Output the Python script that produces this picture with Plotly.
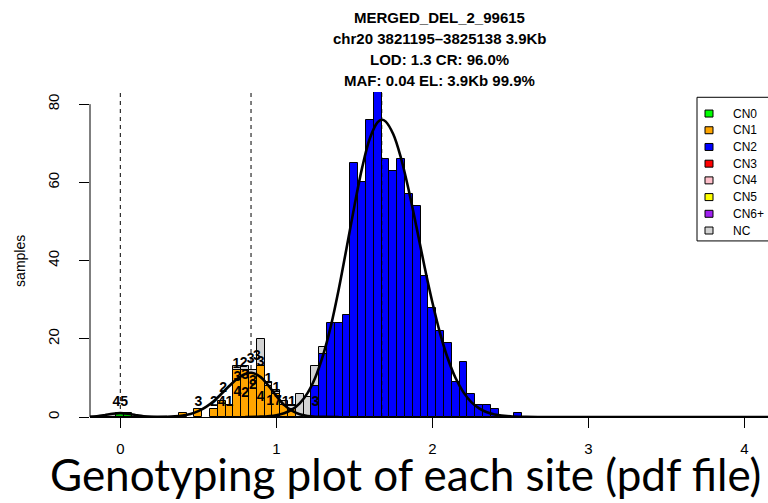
import plotly.graph_objects as go

# ---------------- data ----------------
title_lines = ["MERGED_DEL_2_99615", "chr20 3821195\u20133825138 3.9Kb",
               "LOD: 1.3 CR: 96.0%", "MAF: 0.04 EL: 3.9Kb 99.9%"]
caption = "Genotyping plot of each site (pdf file)"
y_label = "samples"

x_ticks = [0, 1, 2, 3, 4]
y_ticks = [0, 20, 40, 60, 80]

bin_width = 0.05

# all samples incl. no-calls (grey, drawn behind)
nc_x = [0.75, 0.80, 0.85, 0.90, 0.95, 1.00, 1.05, 1.10, 1.15, 1.20, 1.25, 1.30]
nc_y = [13, 13, 12, 20, 9, 7, 4, 3, 6, 5, 13, 18]

cn0_x = [0.00, 0.05]
cn0_y = [1, 1]

cn1_x = [0.40, 0.50, 0.60, 0.65, 0.70, 0.75, 0.80, 0.85, 0.90, 0.95, 1.00, 1.05, 1.10, 1.25]
cn1_y = [1, 2, 2, 4, 3, 12, 12, 11, 13, 8, 6, 3, 2, 1]

cn2_x = [1.25, 1.30, 1.35, 1.40, 1.45, 1.50, 1.55, 1.60, 1.65, 1.70, 1.75, 1.80, 1.85,
         1.90, 1.95, 2.00, 2.05, 2.10, 2.15, 2.20, 2.25, 2.30, 2.35, 2.40, 2.45, 2.50, 2.55]
cn2_y = [8, 16, 24, 24, 26, 65, 60, 76, 83, 66, 63, 66, 57,
         54, 36, 28, 22, 19, 9, 14, 6, 3, 3, 2, 0, 0, 1]

# fitted density curves
fit0_x = [-0.25, -0.20, -0.15, -0.10, -0.05, 0.00, 0.05, 0.10, 0.15, 0.20, 0.25, 0.30]
fit0_y = [0.01, 0.04, 0.17, 0.46, 0.82, 1.0, 0.82, 0.46, 0.17, 0.04, 0.01, 0.0]

fit1_x = [-0.25, 0.30, 0.35, 0.40, 0.45, 0.50, 0.55, 0.60, 0.65, 0.70, 0.75, 0.80, 0.842,
          0.90, 0.95, 1.00, 1.05, 1.10, 1.15, 1.20, 1.25, 1.30, 1.40]
fit1_y = [0.0, 0.07, 0.17, 0.38, 0.79, 1.5, 2.6, 4.1, 6.0, 8.0, 9.8, 11.0, 11.3,
          10.2, 8.0, 5.4, 3.1, 1.6, 0.68, 0.26, 0.08, 0.02, 0.0]

fit2_x = [0.80, 0.90, 1.00, 1.05, 1.10, 1.15, 1.20, 1.25, 1.30, 1.35, 1.40, 1.45, 1.50,
          1.55, 1.60, 1.65, 1.676, 1.70, 1.75, 1.80, 1.85, 1.90, 1.95, 2.00, 2.05, 2.10,
          2.15, 2.20, 2.25, 2.30, 2.35, 2.40, 2.50, 2.60, 2.70, 4.30]
fit2_y = [0.0, 0.09, 0.47, 0.97, 1.9, 3.5, 6.1, 10.1, 15.8, 23.3, 32.6, 43.1, 53.8,
          63.7, 71.3, 75.4, 76.0, 75.6, 72.3, 66.1, 57.8, 48.3, 38.5, 29.4, 21.4, 14.9,
          9.9, 6.3, 3.8, 2.2, 1.2, 0.66, 0.16, 0.03, 0.0, 0.0]

cn_centres = [0.0, 0.838, 1.676]

label_x = [0.00, 0.50, 0.60, 0.65, 0.70, 0.66, 0.745, 0.79, 0.835, 0.875, 0.90,
           0.75, 0.80, 0.85, 0.75, 0.80, 0.85, 0.90, 0.95, 1.00, 0.96, 1.01, 1.06, 1.10, 1.25]
label_y = [3.7, 3.7, 3.7, 3.7, 3.7, 7.4, 13.4, 13.6, 14.6, 15.6, 14.0,
           10.0, 10.5, 9.0, 6.2, 6.0, 8.0, 5.0, 9.6, 7.3, 4.0, 4.0, 3.8, 3.8, 3.7]
label_t = ["45", "3", "2", "4", "1", "2", "1", "2", "3", "3", "3",
           "3", "3", "3", "4", "2", "2", "4", "1", "1", "1", "7", "1", "1", "3"]

legend_names = ["CN0", "CN1", "CN2", "CN3", "CN4", "CN5", "CN6+", "NC"]
legend_colors = ["#00FF00", "#FFA500", "#0000FF", "#FF0000", "#FFC0CB", "#FFFF00", "#A020F0", "#D3D3D3"]

# ---------------- layout geometry ----------------
W, H = 768, 503
L, R, T, B = 90, 768, 91.7, 417.5
X0_PX, X_SCALE = 120.3, 156.0
Y_SCALE = 3.92

x_range = [(L - X0_PX) / X_SCALE, (R - X0_PX) / X_SCALE]
y_range = [0, (B - T) / Y_SCALE]


def px(xp):
    return (xp - L) / (R - L)


def py(yp):
    return (B - yp) / (B - T)


NARROW = "Liberation Sans Narrow, Arial Narrow, Liberation Sans, Arial, sans-serif"
FONT = "Liberation Sans, Arial, sans-serif"

fig = go.Figure()

bar_line = dict(color="black", width=1)
fig.add_trace(go.Bar(x=nc_x, y=nc_y, width=bin_width, marker=dict(color="#D3D3D3", line=bar_line),
                     showlegend=False, hoverinfo="skip"))
fig.add_trace(go.Bar(x=cn0_x, y=cn0_y, width=bin_width, marker=dict(color="#00FF00", line=bar_line),
                     showlegend=False))
fig.add_trace(go.Bar(x=cn1_x, y=cn1_y, width=bin_width, marker=dict(color="#FFA500", line=bar_line),
                     showlegend=False))
fig.add_trace(go.Bar(x=cn2_x, y=cn2_y, width=bin_width, marker=dict(color="#0000FF", line=bar_line),
                     showlegend=False))

for fx, fy in [(fit0_x, fit0_y), (fit1_x, fit1_y), (fit2_x, fit2_y)]:
    fig.add_trace(go.Scatter(x=fx, y=fy, mode="lines", line=dict(color="black", width=2.6, shape="spline"),
                             showlegend=False, hoverinfo="skip"))

fig.add_trace(go.Scatter(x=label_x, y=label_y, text=label_t, mode="text",
                         textfont=dict(family=NARROW, size=14, color="black", weight="bold"),
                         showlegend=False, hoverinfo="skip"))

shapes = []
for i, c in enumerate(cn_centres):
    shapes.append(dict(type="line", xref="x", yref="paper", x0=c, x1=c, y0=0, y1=1,
                       line=dict(color="black", width=1, dash="4px,4px"),
                       layer="above" if i == 2 else "below"))
# y axis line (0..80 as in R)
shapes.append(dict(type="line", xref="paper", yref="y", x0=0, x1=0, y0=y_ticks[0], y1=y_ticks[-1],
                   line=dict(color="black", width=1)))

# legend box (manual, R style)
shapes.append(dict(type="rect", xref="paper", yref="paper", x0=px(697), x1=px(800), y0=py(97), y1=py(241),
                   line=dict(color="black", width=1), fillcolor="white", layer="above"))
annotations = []
for i, (n, c) in enumerate(zip(legend_names, legend_colors)):
    yc = 113.3 + i * 16.75
    shapes.append(dict(type="rect", xref="paper", yref="paper", x0=px(705), x1=px(713),
                       y0=py(yc + 3.5), y1=py(yc - 3.5), line=dict(color="black", width=1),
                       fillcolor=c, layer="above"))
    annotations.append(dict(text=n, xref="paper", yref="paper", x=px(731), y=py(yc), xanchor="left",
                            yanchor="middle", showarrow=False,
                            font=dict(family=NARROW, size=12, color="black")))

for i, t in enumerate(title_lines):
    annotations.append(dict(text="<b>" + t + "</b>", xref="paper", yref="paper", x=px(440),
                            y=py(17.5 + 21 * i), xanchor="center", yanchor="middle", showarrow=False,
                            font=dict(family=NARROW, size=15, color="black")))

annotations.append(dict(text=y_label, xref="paper", yref="paper", x=px(20), y=py(261), textangle=-90,
                        xanchor="center", yanchor="middle", showarrow=False,
                        font=dict(family=FONT, size=14, color="black")))

annotations.append(dict(text=caption, xref="paper", yref="paper", x=px(405), y=py(475),
                        xanchor="center", yanchor="middle", showarrow=False,
                        font=dict(family="Lato, Open Sans, sans-serif", size=44, color="black")))

fig.update_layout(
    width=W, height=H,
    margin=dict(l=L, r=W - R, t=T, b=H - B, autoexpand=False),
    paper_bgcolor="white", plot_bgcolor="white",
    barmode="overlay", bargap=0,
    shapes=shapes, annotations=annotations,
    xaxis=dict(range=x_range, tickvals=x_ticks, ticktext=[str(v) for v in x_ticks],
               ticks="outside", ticklen=10, tickwidth=1, tickcolor="black",
               showline=True, linecolor="black", linewidth=1, showgrid=False, zeroline=False,
               ticklabelstandoff=8, tickfont=dict(family=NARROW, size=15, color="black")),
    yaxis=dict(range=y_range, tickvals=y_ticks, ticktext=[str(v) for v in y_ticks],
               ticks="outside", ticklen=10, tickwidth=1, tickcolor="black", tickangle=-90,
               showline=False, showgrid=False, zeroline=False,
               ticklabelstandoff=14, tickfont=dict(family=FONT, size=15, color="black")),
)

fig.write_html("out.html")
